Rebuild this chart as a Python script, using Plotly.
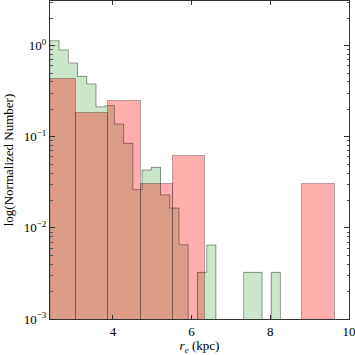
import numpy as np
import plotly.graph_objects as go

# ---- data ----
green_bin_start = 2.3975
green_bin_width = 0.2345
green_values = [1.135, 0.897, 0.646, 0.46, 0.38, 0.213, 0.22, 0.138, 0.0847,
                0.0263, 0.0432, 0.0462, 0.023, 0.0165, 0.00654, 0.0, 0.00325,
                0.00649, 0.0, 0.0, 0.0, 0.00325, 0.00325, 0.0, 0.00325]

red_bin_start = 2.234
red_bin_width = 0.823
red_values = [0.428, 0.1825, 0.249, 0.0303, 0.0615, 0.0, 0.0, 0.0, 0.0303]

x_tick_vals = [4, 6, 8, 10]
x_tick_text = ["4", "6", "8", "10"]
y_tick_vals = [1e-3, 1e-2, 1e-1, 1]
y_tick_text = ["10<sup>\u22123</sup>", "10<sup>\u22122</sup>",
               "10<sup>\u22121</sup>", "10<sup>0</sup>"]

x_range = [2.40, 10.003]
y_range_log = [-3.0, 0.49]

# ---- derived geometry ----
g_edges = green_bin_start + green_bin_width * np.arange(len(green_values) + 1)
g_left = g_edges[:-1]
g_centers = g_left + green_bin_width / 2
r_edges = red_bin_start + red_bin_width * np.arange(len(red_values) + 1)
r_centers = r_edges[:-1] + red_bin_width / 2

floor = 10 ** (y_range_log[0] - 2)

fig = go.Figure()

# green filled histogram (no inner edges)
g_mask = [v > 0 for v in green_values]
fig.add_trace(go.Bar(
    x=[c for c, m in zip(g_centers, g_mask) if m],
    y=[v for v, m in zip(green_values, g_mask) if m],
    width=green_bin_width,
    marker=dict(color="rgba(0,128,0,0.2)", line=dict(width=0)),
    showlegend=False, hoverinfo="skip",
))

# red histogram bars with edges
r_mask = [v > 0 for v in red_values]
fig.add_trace(go.Bar(
    x=[c for c, m in zip(r_centers, r_mask) if m],
    y=[v for v, m in zip(red_values, r_mask) if m],
    width=red_bin_width,
    marker=dict(color="rgba(255,0,0,0.32)",
                line=dict(color="rgba(0,0,0,0.28)", width=1)),
    showlegend=False, hoverinfo="skip",
))

# green step outline
step_x = [g_edges[0]] + list(g_left) + [g_edges[-1]]
step_y = [floor] + [v if v > 0 else floor for v in green_values] + [floor]
fig.add_trace(go.Scatter(
    x=step_x, y=step_y, mode="lines", line=dict(shape="hv", color="rgba(0,0,0,0.38)", width=1),
    showlegend=False, hoverinfo="skip",
))

font = dict(family="Liberation Serif", size=13, color="black")

fig.update_layout(
    width=355, height=355,
    margin=dict(l=50, r=6, t=1, b=36),
    paper_bgcolor="white", plot_bgcolor="white",
    barmode="overlay", bargap=0,
    font=font,
)
fig.update_xaxes(
    range=x_range, tickvals=x_tick_vals, ticktext=x_tick_text,
    ticks="inside", ticklen=4, tickcolor="#333",
    showline=True, linecolor="#333", linewidth=1, mirror="ticks",
    showgrid=False, zeroline=False, ticklabeloverflow="allow",
    title=dict(text="<i>r</i><sub><i>e</i></sub> (kpc)", standoff=1, font=font),
    tickfont=font,
)
fig.update_yaxes(
    type="log", range=y_range_log, tickvals=y_tick_vals, ticktext=y_tick_text,
    ticks="inside", ticklen=5, tickcolor="#333",
    minor=dict(ticks="inside", ticklen=2.5, dtick="D1", tickcolor="#555", showgrid=False),
    showline=True, linecolor="#333", linewidth=1, mirror="ticks",
    showgrid=False, zeroline=False,
    title=dict(text="log(Normalized Number)", standoff=7, font=font),
    tickfont=font,
)

fig.write_html(
    "out.html",
    config={"displayModeBar": False},
    post_script="document.body.style.margin='0';document.body.style.padding='0';"
                "document.documentElement.style.overflow='hidden';",
)
